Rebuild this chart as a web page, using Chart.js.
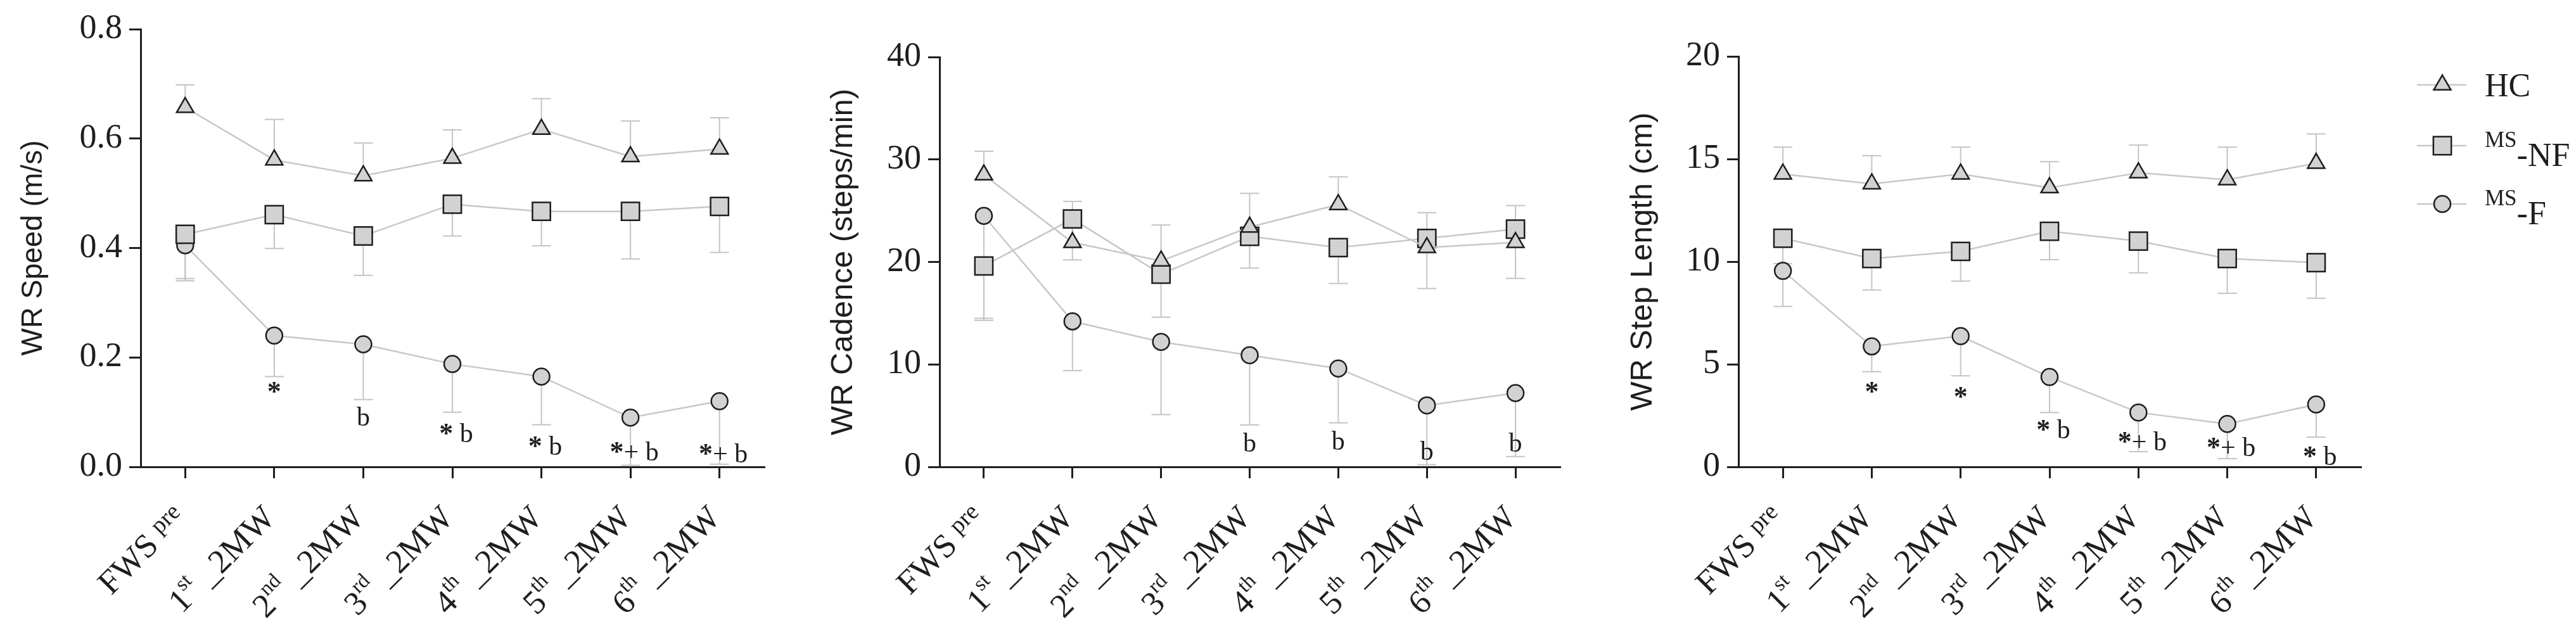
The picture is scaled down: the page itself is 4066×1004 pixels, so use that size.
<!DOCTYPE html>
<html>
<head>
<meta charset="utf-8">
<script src="https://cdn.jsdelivr.net/npm/chart.js@4.4.1/dist/chart.umd.min.js"></script>
<style>
  html, body { margin: 0; padding: 0; background: #fff; }
  body { width: 4066px; height: 1004px; position: relative; overflow: hidden; }
  canvas { position: absolute; top: 0; }
</style>
</head>
<body>
<canvas id="speed" width="1250" height="1004" style="left:0px"></canvas>
<canvas id="cadence" width="1230" height="1004" style="left:1260px"></canvas>
<canvas id="step" width="1546" height="1004" style="left:2520px"></canvas>
<script>
/* ---------- data ---------- */
var categories = ['FWS pre', '1st _2MW', '2nd _2MW', '3rd _2MW', '4th _2MW', '5th _2MW', '6th _2MW'];
var seriesNames = ['HC', 'MS-NF', 'MS-F'];

// WR speed (m/s) : means and end of the error bar
var hcSpeed    = [0.657, 0.561, 0.532, 0.564, 0.617, 0.567, 0.581];
var hcSpeedBar = [0.698, 0.635, 0.592, 0.616, 0.673, 0.632, 0.638];
var nfSpeed    = [0.425, 0.461, 0.422, 0.480, 0.467, 0.467, 0.476];
var nfSpeedBar = [0.344, 0.399, 0.350, 0.422, 0.404, 0.380, 0.392];
var fSpeed     = [0.405, 0.240, 0.224, 0.188, 0.165, 0.090, 0.120];
var fSpeedBar  = [0.340, 0.165, 0.123, 0.100, 0.077, 0.003, 0.005];
var speedMarks = ['', '*', 'b', '* b', '* b', '*+ b', '*+ b'];
var speedMarkY = [null, 0.122, 0.075, 0.045, 0.022, 0.012, 0.008];
var speedTicks = [0, 0.8, 0.2];

// WR cadence (steps/min)
var hcCad    = [28.5, 21.9, 20.1, 23.4, 25.6, 21.4, 21.9];
var hcCadBar = [30.8, 25.9, 23.6, 26.7, 28.3, 24.8, 25.5];
var nfCad    = [19.6, 24.2, 18.8, 22.5, 21.4, 22.3, 23.2];
var nfCadBar = [14.3, 20.2, 14.6, 19.4, 17.9, 17.4, 18.4];
var fCad     = [24.5, 14.2, 12.2, 10.9, 9.6, 6.0, 7.2];
var fCadBar  = [14.5, 9.4, 5.1, 4.1, 4.3, 0.2, 1.0];
var cadMarks = ['', '', '', 'b', 'b', 'b', 'b'];
var cadMarkY = [null, null, null, 1.5, 1.7, 0.7, 1.5];
var cadTicks = [0, 40, 10];

// WR step length (cm)
var hcStep    = [14.27, 13.79, 14.27, 13.60, 14.33, 13.99, 14.79];
var hcStepBar = [15.58, 15.16, 15.58, 14.87, 15.68, 15.58, 16.22];
var nfStep    = [11.14, 10.15, 10.50, 11.48, 11.00, 10.15, 9.95];
var nfStepBar = [9.90, 8.62, 9.05, 10.09, 9.45, 8.46, 8.22];
var fStep     = [9.55, 5.87, 6.37, 4.38, 2.65, 2.09, 3.04];
var fStepBar  = [7.82, 4.64, 4.44, 2.65, 0.74, 0.40, 1.45];
var stepMarks = ['', '*', '*', '* b', '*+ b', '*+ b', '* b'];
var stepMarkY = [null, 3.24, 2.98, 1.39, 0.80, 0.54, 0.10];
var stepTicks = [0, 20, 5];

/* ---------- look ---------- */
var SERIF = '"Liberation Serif", "Times New Roman", serif';
var SANS = '"Liberation Sans", Arial, sans-serif';
var INK = '#1e1e1e';
var LINE = '#c8c8c8';
var FILL = '#d2d2d2';

Chart.defaults.font.family = SERIF;
Chart.defaults.color = INK;

/* ---------- plugins ---------- */
var errorBars = {
    id: 'errorBars',
    beforeDatasetsDraw: function (chart) {
        var ctx = chart.ctx, ys = chart.scales.y;
        ctx.save();
        ctx.strokeStyle = '#c4c4c4';
        ctx.lineWidth = 2;
        chart.data.datasets.forEach(function (ds, di) {
            chart.getDatasetMeta(di).data.forEach(function (pt, i) {
                var y0 = ys.getPixelForValue(ds.data[i]);
                var y1 = ys.getPixelForValue(ds.errEnd[i]);
                ctx.beginPath();
                ctx.moveTo(pt.x, y0);
                ctx.lineTo(pt.x, y1);
                ctx.moveTo(pt.x - 15, y1);
                ctx.lineTo(pt.x + 15, y1);
                ctx.stroke();
            });
        });
        ctx.restore();
    }
};

var sigMarks = {
    id: 'sigMarks',
    afterDatasetsDraw: function (chart, args, o) {
        var ctx = chart.ctx, xs = chart.scales.x, ys = chart.scales.y;
        ctx.save();
        ctx.fillStyle = INK;
        ctx.textBaseline = 'alphabetic';
        ctx.textAlign = 'left';
        o.marks.forEach(function (m, i) {
            if (!m) return;
            var chars = m.split('');
            var fonts = chars.map(function (c) { return (c === '*' ? 'bold 44px ' : '42px ') + SERIF; });
            var w = 0;
            var widths = chars.map(function (c, k) { ctx.font = fonts[k]; var cw = ctx.measureText(c).width; w += cw; return cw; });
            var cx = xs.getPixelForValue(i) + (m.length > 1 ? 6 : 0) - w / 2;
            var y = ys.getPixelForValue(o.markY[i]);
            chars.forEach(function (c, k) {
                ctx.font = fonts[k];
                ctx.fillText(c, cx, y);
                cx += widths[k];
            });
        });
        ctx.restore();
    }
};

function splitLabel(lab) {
    var m = lab.match(/^(\d)(st|nd|rd|th)(.*)$/);
    if (m) return [{ t: m[1], size: 53, rise: 0 }, { t: m[2], size: 33, rise: 24 }, { t: m[3], size: 53, rise: 0 }];
    var p = lab.split(' ');
    return [{ t: p[0] + ' ', size: 53, rise: 0 }, { t: p[1], size: 38, rise: 14 }];
}

var xLabels = {
    id: 'xLabels',
    afterDraw: function (chart) {
        var ctx = chart.ctx, xs = chart.scales.x;
        ctx.save();
        ctx.fillStyle = INK;
        ctx.textAlign = 'left';
        ctx.textBaseline = 'alphabetic';
        chart.data.labels.forEach(function (lab, i) {
            var parts = splitLabel(lab);
            var w = 0;
            parts.forEach(function (p) { ctx.font = p.size + 'px ' + SERIF; p.w = ctx.measureText(p.t).width; w += p.w; });
            ctx.save();
            ctx.translate(xs.getPixelForTick(i) + 4, xs.top + 83);
            ctx.rotate(-Math.PI / 4);
            var cx = -w;
            parts.forEach(function (p) {
                ctx.font = p.size + 'px ' + SERIF;
                ctx.fillText(p.t, cx, -p.rise);
                cx += p.w;
            });
            ctx.restore();
        });
        ctx.restore();
    }
};

var sideLegend = {
    id: 'sideLegend',
    afterDraw: function (chart, args, o) {
        if (!o.show) return;
        var ctx = chart.ctx;
        ctx.save();
        chart.data.datasets.forEach(function (ds, i) {
            var y = o.rows[i], x = o.x;
            ctx.strokeStyle = LINE;
            ctx.lineWidth = 2.5;
            ctx.beginPath();
            ctx.moveTo(x - 40, y);
            ctx.lineTo(x + 38, y);
            ctx.stroke();
            ctx.fillStyle = FILL;
            ctx.strokeStyle = INK;
            ctx.lineWidth = ds.pointBorderWidth;
            Chart.helpers.drawPoint(ctx, { pointStyle: ds.pointStyle, radius: ds.pointRadius, borderWidth: ds.pointBorderWidth, rotation: 0 }, x, y);
            ctx.fillStyle = INK;
            ctx.textAlign = 'left';
            ctx.textBaseline = 'alphabetic';
            var name = ds.label;
            if (name.indexOf('MS') === 0) {
                ctx.font = '35px ' + SERIF;
                ctx.fillText('MS', o.textX, y + 2);
                var mw = ctx.measureText('MS').width;
                ctx.font = '52px ' + SERIF;
                ctx.fillText(name.slice(2), o.textX + mw, y + 32);
            } else {
                ctx.font = '52px ' + SERIF;
                ctx.fillText(name, o.textX, y + 18);
            }
        });
        ctx.restore();
    }
};

/* ---------- charts ---------- */
function series(name, values, ends, style, radius) {
    return {
        label: name,
        data: values,
        errEnd: ends,
        borderColor: LINE,
        borderWidth: 2.5,
        pointStyle: style,
        pointRadius: radius,
        pointBackgroundColor: FILL,
        pointBorderColor: INK,
        pointBorderWidth: 2.5,
        tension: 0,
        clip: false
    };
}

function makePanel(id, p) {
    return new Chart(document.getElementById(id), {
        type: 'line',
        data: {
            labels: categories,
            datasets: [
                series(seriesNames[0], p.hc, p.hcBar, 'triangle', 15.5),
                series(seriesNames[1], p.nf, p.nfBar, 'rect', 20),
                series(seriesNames[2], p.f, p.fBar, 'circle', 13)
            ]
        },
        options: {
            responsive: false,
            animation: false,
            layout: { padding: { top: p.top, right: p.right, bottom: 0, left: 0 } },
            plugins: {
                legend: { display: false },
                tooltip: { enabled: false },
                sigMarks: { marks: p.marks, markY: p.markY },
                sideLegend: { show: !!p.legend, x: 1335, textX: 1402, rows: [134, 230, 322] }
            },
            scales: {
                x: {
                    offset: true,
                    border: { display: true, color: INK, width: 3 },
                    grid: { display: true, drawOnChartArea: false, drawTicks: true, tickLength: 18, color: INK, lineWidth: 3 },
                    ticks: { display: false },
                    afterFit: function (s) { s.height = 1004 - 737; }
                },
                y: {
                    min: p.ticks[0],
                    max: p.ticks[1],
                    border: { display: true, color: INK, width: 3 },
                    grid: { display: true, drawOnChartArea: false, drawTicks: true, tickLength: 18, color: INK, lineWidth: 3 },
                    ticks: {
                        stepSize: p.ticks[2],
                        padding: 11,
                        color: INK,
                        font: { family: SERIF, size: 54 },
                        callback: function (v) { return p.ticks[2] < 1 ? v.toFixed(1) : v; }
                    },
                    title: {
                        display: true,
                        text: p.title,
                        color: INK,
                        font: { family: SANS, size: p.titleSize },
                        padding: { top: p.titlePad, bottom: 0 }
                    },
                    afterFit: function (s) { s.width = p.axisW; }
                }
            }
        },
        plugins: [errorBars, sigMarks, xLabels, sideLegend]
    });
}

makePanel('speed', {
    hc: hcSpeed, hcBar: hcSpeedBar, nf: nfSpeed, nfBar: nfSpeedBar, f: fSpeed, fBar: fSpeedBar,
    marks: speedMarks, markY: speedMarkY, ticks: speedTicks,
    title: 'WR Speed (m/s)', titleSize: 46, titlePad: 26, axisW: 222, top: 46, right: 44
});
makePanel('cadence', {
    hc: hcCad, hcBar: hcCadBar, nf: nfCad, nfBar: nfCadBar, f: fCad, fBar: fCadBar,
    marks: cadMarks, markY: cadMarkY, ticks: cadTicks,
    title: 'WR Cadence (steps/min)', titleSize: 49, titlePad: 42, axisW: 223, top: 90, right: 28
});
makePanel('step', {
    hc: hcStep, hcBar: hcStepBar, nf: nfStep, nfBar: nfStepBar, f: fStep, fBar: fStepBar,
    marks: stepMarks, markY: stepMarkY, ticks: stepTicks,
    title: 'WR Step Length (cm)', titleSize: 49, titlePad: 44, axisW: 224, top: 89, right: 340,
    legend: true
});
</script>
</body>
</html>
